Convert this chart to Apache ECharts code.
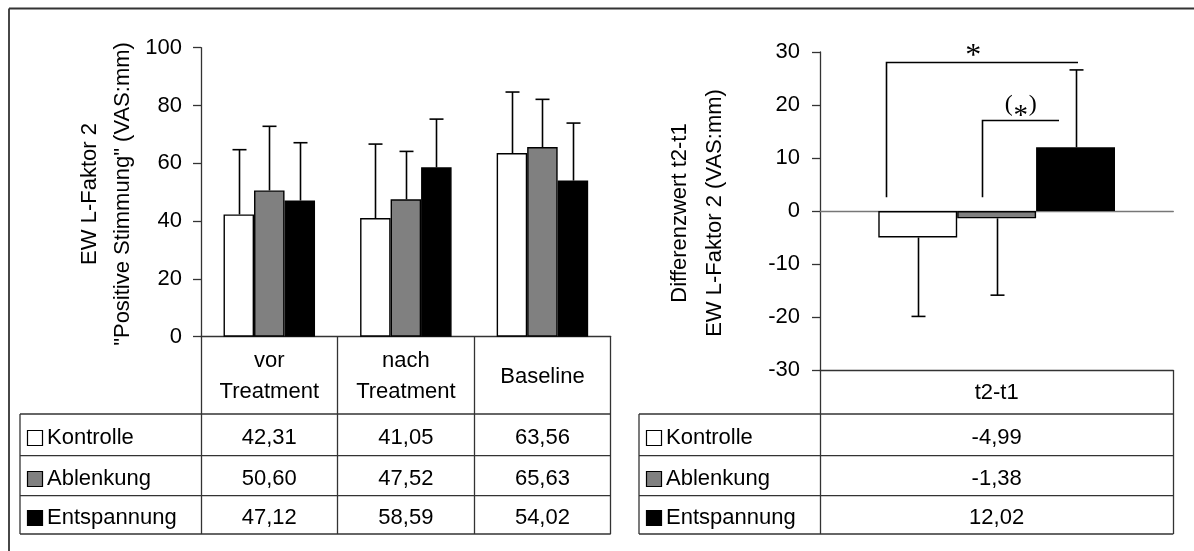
<!DOCTYPE html>
<html><head><meta charset="utf-8">
<script src="https://cdn.jsdelivr.net/npm/echarts@6/dist/echarts.min.js"></script>
<style>html,body{margin:0;padding:0;background:#fff}#c{width:1194px;height:551px}</style>
</head><body><div id="c"></div>
<script>
// ---------- data ----------
const categories = ['vor\nTreatment', 'nach\nTreatment', 'Baseline'];
const groups = ['Kontrolle', 'Ablenkung', 'Entspannung'];
const kontrolle = [42.31, 41.05, 63.56];
const ablenkung = [50.60, 47.52, 65.63];
const entspannung = [47.12, 58.59, 54.02];
const sdKontrolle = [22.4, 25.6, 21.1];
const sdAblenkung = [22.2, 16.6, 16.5];
const sdEntspannung = [20.0, 16.7, 19.9];
const diffCategories = ['t2-t1'];
const diffKontrolle = [-4.99];
const diffAblenkung = [-1.38];
const diffEntspannung = [12.02];
const sdDiffKontrolle = [14.9];
const sdDiffAblenkung = [14.5];
const sdDiffEntspannung = [14.6];
const leftTicks = [0, 20, 40, 60, 80, 100];
const rightTicks = [-30, -20, -10, 0, 10, 20, 30];
// significance annotations: label, value of bracket top, value of bracket foot
const sigLabels = ['*', '(*)'];
const sigTop = [28.1, 17.2];
const sigFoot = [2.6, 2.6];

// ---------- style / layout ----------
const FONT = "'Liberation Sans', Arial, sans-serif";
const SERIF = "'Liberation Serif', 'Times New Roman', serif";
const FS = 22;
const AX = '#333';
const colors = ['#ffffff', '#808080', '#000000'];
const G0 = {left: 201, top: 47.7, width: 409.7, height: 289};
const G1 = {left: 820, top: 52, width: 353.3, height: 318};
const rowLines = [414, 455.7, 495.7, 534];
const CATGAP = 0.33;

const chart = echarts.init(document.getElementById('c'), null, {renderer: 'canvas'});
const fmt = v => v.toFixed(2).replace('.', ',');

function errRender(k) {
  return function (params, api) {
    const cat = api.value(0), v = api.value(1), sd = api.value(2);
    const end = v >= 0 ? v + sd : v - sd;
    const p0 = api.coord([cat, v]);
    const p1 = api.coord([cat, end]);
    const bw = api.size([1, 0])[0] * (1 - CATGAP) / 3;
    const x = Math.round(p0[0] + (k - 1) * bw) + 0.5;
    return {type: 'group', children: [
      {type: 'line', shape: {x1: x, y1: p0[1], x2: x, y2: p1[1]}, style: {stroke: '#000', lineWidth: 1.6}},
      {type: 'line', shape: {x1: x - 7, y1: p1[1], x2: x + 7, y2: p1[1]}, style: {stroke: '#000', lineWidth: 1.6}}
    ]};
  };
}
function errData(vals, sds) { return vals.map((v, i) => [i, v, sds[i]]); }

function bar(name, data, k, xi, yi) {
  return {name, type: 'bar', xAxisIndex: xi, yAxisIndex: yi, data,
    barGap: '0%', barCategoryGap: (CATGAP * 100) + '%',
    itemStyle: {color: colors[k], borderColor: '#000', borderWidth: 1.4}, z: 2, animation: false};
}
function err(data, k, xi, yi) {
  return {type: 'custom', xAxisIndex: xi, yAxisIndex: yi, data, renderItem: errRender(k), z: 5, animation: false, silent: true};
}

// brackets: x in fraction of band width relative to category centre
const bracketX = [[-0.313, 0.231], [-0.042, 0.177]];
function bracketRender(params, api) {
  const i = params.dataIndex;
  const top = api.value(1), foot = api.value(2);
  const c = api.coord([0, top]);
  const f = api.coord([0, foot]);
  const bw = api.size([1, 0])[0];
  const x1 = Math.round(c[0] + bracketX[i][0] * bw) + 0.5;
  const x2 = Math.round(c[0] + bracketX[i][1] * bw);
  const y = Math.round(c[1]) + 0.5;
  const ch = [
    {type: 'polyline', shape: {points: [[x1, f[1]], [x1, y], [x2, y]]}, style: {stroke: '#000', lineWidth: 1.6, fill: null}}
  ];
  const cx = (x1 + x2) / 2;
  if (sigLabels[i] === '*') {
    ch.push({type: 'text', x: cx - 9, y: y - 6, style: {text: '*', font: "32px " + SERIF, fill: '#000', align: 'center', verticalAlign: 'middle'}});
  } else {
    ch.push({type: 'text', x: cx - 12, y: y - 16, style: {text: '(', font: "24px " + SERIF, fill: '#000', align: 'center', verticalAlign: 'middle'}});
    ch.push({type: 'text', x: cx, y: y - 4, style: {text: '*', font: "29px " + SERIF, fill: '#000', align: 'center', verticalAlign: 'middle'}});
    ch.push({type: 'text', x: cx + 12, y: y - 16, style: {text: ')', font: "24px " + SERIF, fill: '#000', align: 'center', verticalAlign: 'middle'}});
  }
  return {type: 'group', children: ch};
}

const axisLabelStyle = {fontSize: FS, fontFamily: FONT, color: '#000'};

// ---------- graphics: frame, titles, tables ----------
const gr = [];
function hline(x1, x2, y, c, w) { gr.push({type: 'line', shape: {x1, y1: y, x2, y2: y}, style: {stroke: c || AX, lineWidth: w || 1.3}, z: 10}); }
function vline(x, y1, y2, c, w) { gr.push({type: 'line', shape: {x1: x, y1, x2: x, y2}, style: {stroke: c || AX, lineWidth: w || 1.3}, z: 10}); }
function txt(x, y, t, align) { gr.push({type: 'text', x, y, style: {text: t, font: FS + 'px ' + FONT, fill: '#000', align: align || 'center', verticalAlign: 'middle'}, z: 10}); }

// outer frame (top + left)
hline(9, 1194, 8.5, '#333', 1.8);
vline(9, 8.5, 551, '#333', 1.8);

// y-axis titles
gr.push({type: 'text', x: 106.5, y: 194, rotation: Math.PI / 2,
  style: {text: 'EW L-Faktor 2\n"Positive Stimmung" (VAS:mm)', font: FS + 'px ' + FONT, lineHeight: 33, fill: '#000', align: 'center', verticalAlign: 'middle'}});
gr.push({type: 'text', x: 697.5, y: 213, rotation: Math.PI / 2,
  style: {text: 'Differenzwert t2-t1\nEW L-Faktor 2 (VAS:mm)', font: FS + 'px ' + FONT, lineHeight: 35, fill: '#000', align: 'center', verticalAlign: 'middle'}});

// left table
const lt = 20, lc = G0.left, lr = G0.left + G0.width;
rowLines.forEach(y => hline(lt, lr, y));
vline(lt, rowLines[0], rowLines[3]);
const lBand = G0.width / categories.length;
const leftSeries = [kontrolle, ablenkung, entspannung];
// right table
const rt = 639, rc = G1.left, rr = G1.left + G1.width;
rowLines.forEach(y => hline(rt, rr, y));
vline(rt, rowLines[0], rowLines[3]);
const rightSeries = [diffKontrolle, diffAblenkung, diffEntspannung];

groups.forEach((g, k) => {
  const yc = (rowLines[k] + rowLines[k + 1]) / 2 + 3;
  [[lt, leftSeries, lc, lBand], [rt, rightSeries, rc, G1.width / diffCategories.length]].forEach(([x0, ser, c0, band]) => {
    gr.push({type: 'rect', shape: {x: x0 + 7.5, y: Math.round(yc - 8) + 0.5, width: 15, height: 15},
      style: {fill: colors[k], stroke: '#000', lineWidth: 1.2}, z: 10});
    txt(x0 + 27, yc, g, 'left');
    ser[k].forEach((v, i) => txt(c0 + band * (i + 0.5), yc, fmt(v)));
  });
});

const option = {
  animation: false,
  backgroundColor: '#fff',
  textStyle: {fontFamily: FONT},
  grid: [
    Object.assign({containLabel: false}, G0),
    Object.assign({containLabel: false}, G1)
  ],
  xAxis: [
    {type: 'category', gridIndex: 0, data: categories,
      axisLine: {lineStyle: {color: AX, width: 1.3}},
      axisTick: {show: true, alignWithLabel: false, length: rowLines[3] - (G0.top + G0.height), lineStyle: {color: AX, width: 1.3}},
      axisLabel: Object.assign({margin: 40, verticalAlign: 'middle', lineHeight: 31, interval: 0}, axisLabelStyle)},
    {type: 'category', gridIndex: 1, data: diffCategories,
      axisLine: {onZero: true, lineStyle: {color: '#777', width: 1.3}},
      axisTick: {show: false}, axisLabel: {show: false}},
    {type: 'category', gridIndex: 1, data: diffCategories, position: 'bottom',
      axisLine: {onZero: false, lineStyle: {color: AX, width: 1.3}},
      axisTick: {show: true, alignWithLabel: false, length: rowLines[3] - (G1.top + G1.height), lineStyle: {color: AX, width: 1.3}},
      axisLabel: Object.assign({margin: 23, verticalAlign: 'middle'}, axisLabelStyle)}
  ],
  yAxis: [
    {type: 'value', gridIndex: 0, min: leftTicks[0], max: leftTicks[leftTicks.length - 1], interval: leftTicks[1] - leftTicks[0],
      axisLine: {show: true, lineStyle: {color: AX, width: 1.3}},
      axisTick: {show: true, length: 8, lineStyle: {color: AX, width: 1.3}},
      splitLine: {show: false},
      axisLabel: Object.assign({margin: 19}, axisLabelStyle)},
    {type: 'value', gridIndex: 1, min: rightTicks[0], max: rightTicks[rightTicks.length - 1], interval: rightTicks[1] - rightTicks[0],
      axisLine: {show: true, onZero: false, lineStyle: {color: AX, width: 1.3}},
      axisTick: {show: true, length: 8, lineStyle: {color: AX, width: 1.3}},
      splitLine: {show: false},
      axisLabel: Object.assign({margin: 20}, axisLabelStyle)}
  ],
  series: [
    bar(groups[0], kontrolle, 0, 0, 0),
    bar(groups[1], ablenkung, 1, 0, 0),
    bar(groups[2], entspannung, 2, 0, 0),
    err(errData(kontrolle, sdKontrolle), 0, 0, 0),
    err(errData(ablenkung, sdAblenkung), 1, 0, 0),
    err(errData(entspannung, sdEntspannung), 2, 0, 0),
    bar(groups[0], diffKontrolle, 0, 1, 1),
    bar(groups[1], diffAblenkung, 1, 1, 1),
    bar(groups[2], diffEntspannung, 2, 1, 1),
    err(errData(diffKontrolle, sdDiffKontrolle), 0, 1, 1),
    err(errData(diffAblenkung, sdDiffAblenkung), 1, 1, 1),
    err(errData(diffEntspannung, sdDiffEntspannung), 2, 1, 1),
    {type: 'custom', xAxisIndex: 1, yAxisIndex: 1, renderItem: bracketRender, z: 6, silent: true,
      data: sigLabels.map((s, i) => [0, sigTop[i], sigFoot[i]])}
  ],
  graphic: gr
};
chart.setOption(option);
</script></body></html>
